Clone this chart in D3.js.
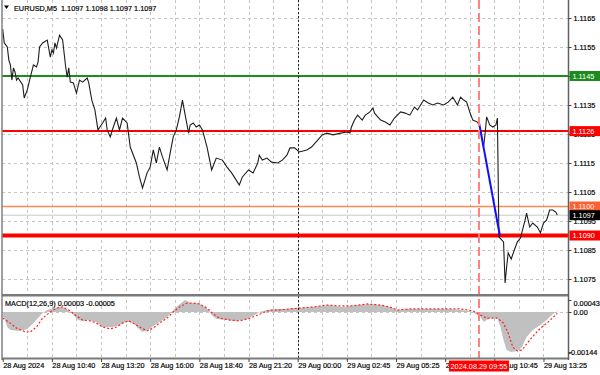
<!DOCTYPE html>
<html>
<head>
<meta charset="utf-8">
<script src="https://cdn.jsdelivr.net/npm/d3@7"></script>
<style>
body{margin:0;background:#fff}
svg{display:block;font-family:"Liberation Sans",Arial,sans-serif}
.dk{stroke:#000;stroke-width:0.18px}
</style>
</head>
<body>
<script>
// minutes on the chart's slot scale since 28 Aug 08:00 (5-min bars)
var priceTime = [0,5,15,20,25,30,35,40,45,50,65,70,80,90,100,110,115,120,130,145,155,160,165,170,175,185,195,205,210,215,220,230,240,250,260,275,280,290,300,310,325,335,340,350,360,370,380,390,405,415,435,445,455,470,480,490,500,510,520,535,545,555,565,575,585,595,605,610,620,630,640,650,665,680,695,715,730,745,760,770,780,800,815,830,835,845,860,875,895,910,925,935,950,965,990,1005,1025,1040,1055,1075,1100,1120,1130,1135,1145,1155,1170,1180,1195,1205,1210,1230,1245,1260,1275,1295,1310,1325,1340,1350,1370,1385,1400,1415,1435,1450,1465,1480,1490,1500,1510,1520,1530,1545,1550,1555,1565,1570,1575,1585,1595,1605,1610,1615,1630,1635,1640,1645,1655,1665,1675,1685,1700,1705,1715,1725,1740,1750,1760,1770,1780,1790,1800,1805];
var priceClose = [1.11612,1.11564,1.11550,1.11505,1.11488,1.11436,1.11478,1.11464,1.11436,1.11443,1.11419,1.11374,1.11402,1.11446,1.11488,1.11481,1.11498,1.11550,1.11564,1.11574,1.11515,1.11540,1.11529,1.11564,1.11546,1.11591,1.11574,1.11481,1.11446,1.11478,1.11429,1.11426,1.11391,1.11436,1.11429,1.11443,1.11426,1.11367,1.11333,1.11264,1.11288,1.11305,1.11264,1.11240,1.11274,1.11305,1.11264,1.11305,1.11288,1.11205,1.11150,1.11102,1.11064,1.11116,1.11136,1.11195,1.11150,1.11205,1.11171,1.11126,1.11184,1.11240,1.11264,1.11309,1.11367,1.11309,1.11253,1.11281,1.11288,1.11274,1.11281,1.11264,1.11205,1.11126,1.11167,1.11160,1.11136,1.11116,1.11091,1.11074,1.11102,1.11126,1.11116,1.11150,1.11177,1.11160,1.11167,1.11153,1.11150,1.11160,1.11177,1.11202,1.11202,1.11188,1.11195,1.11205,1.11229,1.11247,1.11253,1.11247,1.11253,1.11257,1.11253,1.11274,1.11298,1.11315,1.11298,1.11315,1.11326,1.11340,1.11322,1.11298,1.11291,1.11281,1.11305,1.11326,1.11322,1.11315,1.11343,1.11333,1.11367,1.11357,1.11350,1.11357,1.11350,1.11360,1.11377,1.11350,1.11377,1.11367,1.11360,1.11326,1.11298,1.11291,1.11281,1.11264,1.11205,1.11253,1.11309,1.11281,1.11274,1.11281,1.11305,1.10895,1.10878,1.10736,1.10791,1.10840,1.10819,1.10850,1.10878,1.10891,1.10953,1.10977,1.10929,1.10943,1.10929,1.10909,1.10943,1.10953,1.10988,1.10988,1.10981,1.10971];

var histTime = [0,5,15,25,55,80,100,115,130,145,165,185,205,220,230,245,260,275,305,325,340,360,380,400,410,425,440,455,475,490,510,535,550,565,585,595,610,630,650,670,680,695,730,760,795,820,835,860,895,925,945,965,1010,1065,1105,1155,1195,1230,1260,1285,1315,1360,1400,1445,1490,1520,1535,1555,1565,1575,1590,1610,1620,1630,1640,1655,1675,1690,1705,1725,1750,1770,1790,1805];
var histValue = [-0.00014,-0.00022,-0.00054,-0.00065,-0.00068,-0.00061,-0.00040,-0.00022,-0.00004,0.00007,0.00014,0.00018,0.00014,0,-0.00011,-0.00029,-0.00032,-0.00029,-0.00036,-0.00054,-0.00054,-0.00054,-0.00047,-0.00036,-0.00036,-0.00040,-0.00058,-0.00072,-0.00065,-0.00050,-0.00036,-0.00018,0,0.00018,0.00036,0.00043,0.00032,0.00032,0.00025,0.00007,-0.00011,-0.00025,-0.00029,-0.00032,-0.00025,-0.00011,0,0.00007,0.00011,0.00011,0.00014,0.00014,0.00018,0.00025,0.00018,0.00025,0.00029,0.00025,0.00018,0.00007,0.00011,0.00011,0.00011,0.00011,0.00007,0.00004,-0.00004,-0.00018,-0.00036,-0.00029,-0.00022,-0.00022,-0.00054,-0.00101,-0.00137,-0.00144,-0.00140,-0.00126,-0.00090,-0.00065,-0.00047,-0.00029,-0.00007,0.00003];

var signalTime = [0,25,45,75,90,110,130,155,175,195,220,240,260,285,305,325,350,370,390,410,425,445,470,490,510,535,555,575,600,620,640,665,685,705,740,770,805,830,845,870,900,935,965,1010,1055,1100,1140,1185,1230,1260,1285,1325,1380,1435,1490,1530,1555,1575,1610,1630,1645,1660,1675,1690,1715,1750,1775,1805];
var signalValue = [-0.00022,-0.00040,-0.00058,-0.00072,-0.00072,-0.00054,-0.00022,0,0.00014,0.00018,0.00004,-0.00014,-0.00029,-0.00032,-0.00040,-0.00054,-0.00061,-0.00054,-0.00040,-0.00032,-0.00040,-0.00054,-0.00068,-0.00058,-0.00040,-0.00022,0,0.00018,0.00032,0.00032,0.00029,0.00014,-0.00007,-0.00022,-0.00029,-0.00032,-0.00022,-0.00011,-0.00004,0.00007,0.00007,0.00011,0.00014,0.00018,0.00025,0.00022,0.00022,0.00029,0.00025,0.00018,0.00007,0.00011,0.00011,0.00011,0.00011,0.00004,-0.00011,-0.00022,-0.00022,-0.00040,-0.00076,-0.00126,-0.00140,-0.00137,-0.00101,-0.00058,-0.00036,-0.00005];

var dateTime = [0,160,320,480,640,800,960,1120,1280,1440,1600,1760];
var dateLabels = ["28 Aug 2024","28 Aug 10:40","28 Aug 13:20","28 Aug 16:00","28 Aug 18:40","28 Aug 21:20","29 Aug 00:00","29 Aug 02:45","29 Aug 05:25","29 Aug 08:05","29 Aug 10:45","29 Aug 13:25"];

var priceTicks = [1.1165,1.1155,1.1145,1.1135,1.1125,1.1115,1.1105,1.1095,1.1085,1.1075];
var macdTicks = [0.00043,0,-0.00144];
var macdTickLabels = ["0.00043","0.00","-0.00144"];

var levelPrices = [1.1145,1.1126,1.1100,1.1097,1.1090];
var levelColors = ["#1c8c1c","#ff0000","#ff8a50","#c8c8c8","#ff0000"];
var levelWidths = [2,2,1.5,1,4];
var levelBoxColors = ["#1c8c1c","#ff0000","#ff6030","#000000","#ff0000"];

var trendTime = [1550,1618];
var trendPrice = [1.11290,1.10900];
var markTime = 1550, markLabel = "2024.08.29 09:55";
var dayBreak = 960;

var title = "EURUSD,M5  1.1097 1.1098 1.1097 1.1097";
var macdTitle = "MACD(12,26,9) 0.00003 -0.00005";

var svg = d3.select("body").append("svg").attr("width",600).attr("height",375);

var x = d3.scaleLinear().domain([0,1843]).range([2.7,569]);
var y = d3.scaleLinear().domain([1.1165,1.1075]).range([18,279]);
var ym = d3.scaleLinear().domain([0,-0.00144]).range([312,352]);

var defs = svg.append("defs");
defs.append("clipPath").attr("id","cmain").append("rect").attr("x",2).attr("y",0).attr("width",566).attr("height",294);
defs.append("clipPath").attr("id","cmacd").append("rect").attr("x",2).attr("y",297).attr("width",566).attr("height",61);

var main = svg.append("g").attr("clip-path","url(#cmain)");
var macd = svg.append("g").attr("clip-path","url(#cmacd)");

// grid
var gridX = d3.range(80,1843,80);
[main,macd].forEach(function(g){
  g.selectAll(".vg").data(gridX).enter().append("line")
    .attr("x1",function(d){return Math.round(x(d))+0.5;}).attr("x2",function(d){return Math.round(x(d))+0.5;})
    .attr("y1",0).attr("y2",360)
    .attr("stroke","#c4c4c4").attr("stroke-dasharray","3,3");
});
main.selectAll(".hg").data(priceTicks).enter().append("line")
  .attr("x1",2).attr("x2",568).attr("y1",function(d){return Math.round(y(d))+0.5;}).attr("y2",function(d){return Math.round(y(d))+0.5;})
  .attr("stroke","#c4c4c4").attr("stroke-dasharray","3,3");
macd.append("line").attr("x1",2).attr("x2",568).attr("y1",Math.round(ym(0))+0.5).attr("y2",Math.round(ym(0))+0.5)
  .attr("stroke","#c4c4c4").attr("stroke-dasharray","3,3");

// day separator
svg.append("line").attr("x1",Math.round(x(dayBreak))+0.5).attr("x2",Math.round(x(dayBreak))+0.5)
  .attr("y1",0).attr("y2",358).attr("stroke","#222").attr("stroke-dasharray","2,2");

// level lines
main.selectAll(".lvl").data(levelPrices).enter().append("line")
  .attr("x1",2).attr("x2",568)
  .attr("y1",function(d){return y(d);}).attr("y2",function(d){return y(d);})
  .attr("stroke",function(d,i){return levelColors[i];})
  .attr("stroke-width",function(d,i){return levelWidths[i];});

// price line
var pts = priceTime.map(function(t,i){return [t,priceClose[i]];});
main.append("path").datum(pts)
  .attr("d",d3.line().x(function(d){return x(d[0]);}).y(function(d){return y(d[1]);}))
  .attr("fill","none").attr("stroke","#1e1e1e").attr("stroke-width",1.1);

// trend line
main.append("line")
  .attr("x1",x(trendTime[0])).attr("y1",y(trendPrice[0]))
  .attr("x2",x(trendTime[1])).attr("y2",y(trendPrice[1]))
  .attr("stroke","#1010ff").attr("stroke-width",2);

// macd histogram + signal
var hp = histTime.map(function(t,i){return [t,histValue[i]];});
macd.append("path").datum(hp)
  .attr("d",d3.area().x(function(d){return x(d[0]);}).y0(ym(0)).y1(function(d){return ym(d[1]);}))
  .attr("fill","#c0c0c0");
var sp = signalTime.map(function(t,i){return [t,signalValue[i]];});
macd.append("path").datum(sp)
  .attr("d",d3.line().x(function(d){return x(d[0]);}).y(function(d){return ym(d[1]);}))
  .attr("fill","none").attr("stroke","#ff2020").attr("stroke-width",1.2).attr("stroke-dasharray","2,2");

// marker line
svg.append("line").attr("x1",x(markTime)).attr("x2",x(markTime)).attr("y1",0).attr("y2",358)
  .attr("stroke","#ff8080").attr("stroke-width",2).attr("stroke-dasharray","9,4");

// frames
svg.append("line").attr("x1",2).attr("x2",2).attr("y1",0).attr("y2",360).attr("stroke","#808080").attr("stroke-width",1.5);
svg.append("rect").attr("x",2).attr("y",294).attr("width",567).attr("height",2.5).attr("fill","#7a7a7a");
svg.append("rect").attr("x",2).attr("y",357.5).attr("width",567).attr("height",2).attr("fill","#7a7a7a");
svg.append("line").attr("x1",568.5).attr("x2",568.5).attr("y1",0).attr("y2",360).attr("stroke","#606060").attr("stroke-width",1.5);

var fs = "7.3px";
// price axis
var ya = svg.append("g").attr("transform","translate(568.5,0)")
  .call(d3.axisRight(y).tickValues(priceTicks).tickFormat(d3.format(".4f")).tickSize(3).tickPadding(2));
ya.select(".domain").remove();
ya.attr("font-family",null).attr("font-size",null);
ya.selectAll("text").style("font-size",fs).attr("fill","#000").attr("class","dk");
ya.selectAll("line").attr("stroke","#444");

// macd axis
var ma = svg.append("g").attr("transform","translate(568.5,0)")
  .call(d3.axisRight(ym).tickValues(macdTicks).tickFormat(function(d,i){return macdTickLabels[i];}).tickSize(3).tickPadding(2));
ma.select(".domain").remove();
ma.attr("font-family",null).attr("font-size",null);
ma.selectAll("text").style("font-size",fs).attr("fill","#000").attr("class","dk")
  .attr("y",function(d,i){return i===0?3:0;})
  .attr("x",function(d){return d<0?0:5;});
ma.selectAll("line").attr("stroke","#444");

// level boxes
var lb = svg.selectAll(".lb").data(levelPrices).enter().append("g")
  .attr("transform",function(d){return "translate(569,"+y(d)+")";});
lb.append("rect").attr("x",0.5).attr("y",-5).attr("width",31).attr("height",10)
  .attr("fill",function(d,i){return levelBoxColors[i];});
lb.append("text").attr("x",3.5).attr("dy","0.35em").style("font-size",fs).attr("fill","#fff")
  .text(function(d){return d3.format(".4f")(d);});

// time axis
var xa = svg.append("g").attr("transform","translate(0,359)")
  .call(d3.axisBottom(x).tickValues(dateTime).tickFormat(function(d,i){return dateLabels[i];}).tickSize(3).tickPadding(2));
xa.select(".domain").remove();
xa.attr("font-family",null).attr("font-size",null);
xa.selectAll("line").attr("stroke","#444");
xa.selectAll("text").style("font-size",fs).attr("fill","#000").attr("class","dk").attr("text-anchor","start").attr("x",0).attr("y",4);

// marker date box
var mb = svg.append("g").attr("transform","translate("+x(markTime)+",366)");
mb.append("rect").attr("x",-30).attr("y",-5.5).attr("width",60).attr("height",11).attr("fill","#ff0000");
mb.append("text").attr("text-anchor","middle").attr("dy","0.35em").style("font-size",fs).attr("fill","#fff").text(markLabel);

// titles
svg.append("path").attr("d","M4,5.5 L9,5.5 L6.5,9 Z").attr("fill","#000");
svg.append("text").attr("x",14).attr("y",8).attr("dy","0.35em").style("font-size",fs).attr("fill","#000").attr("class","dk")
  .style("white-space","pre").text(title);
svg.append("text").attr("x",5).attr("y",303.5).attr("dy","0.35em").style("font-size",fs).attr("fill","#000").attr("class","dk").text(macdTitle);
</script>
</body>
</html>
